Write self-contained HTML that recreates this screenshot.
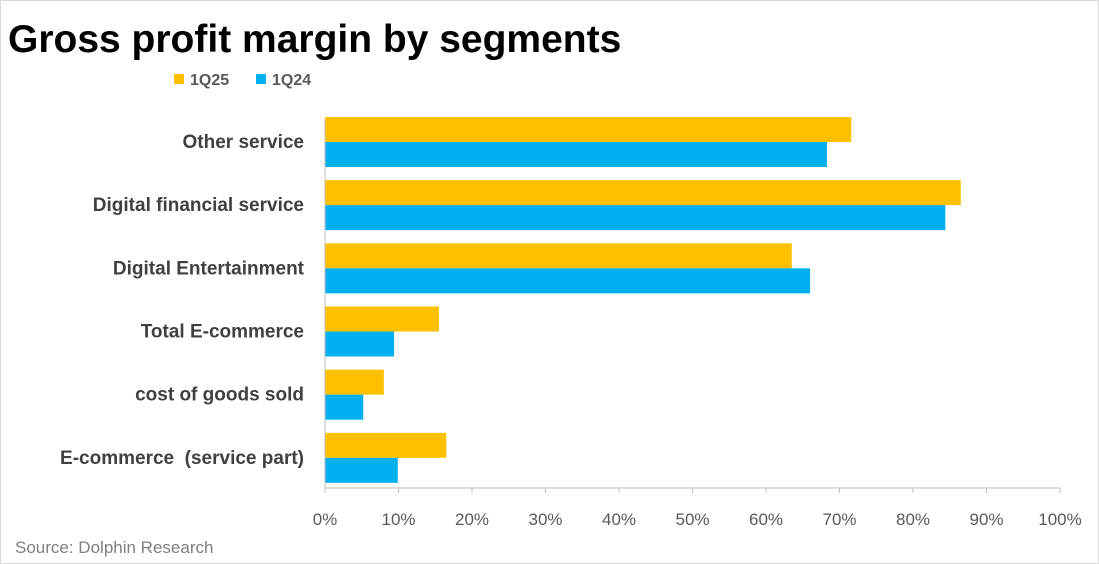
<!DOCTYPE html>
<html><head><meta charset="utf-8"><style>
body{margin:0;background:#fff;}
#wrap{position:relative;width:1097px;height:562px;border:1px solid #d9d9d9;overflow:hidden;font-family:"Liberation Sans",sans-serif;}
</style></head><body>
<div id="wrap">
<svg id="chart" width="1097" height="562">
<text x="7" y="51" font-size="39" font-weight="bold" fill="#000">Gross profit margin by segments</text>
<g>
<rect x="173" y="73" width="10" height="10" fill="#FFC000"/>
<text x="189" y="84" font-size="16" font-weight="bold" fill="#595959">1Q25</text>
<rect x="255" y="73" width="10" height="10" fill="#00B0F0"/>
<text x="271" y="84" font-size="16" font-weight="bold" fill="#595959">1Q24</text>
</g>
<g id="plot"></g>
<text x="14" y="552" font-size="17" fill="#7f7f7f">Source: Dolphin Research</text>
</svg>
</div>
<script>
const categories=["Other service","Digital financial service","Digital Entertainment","Total E-commerce","cost of goods sold","E-commerce\u00a0\u00a0(service part)"];
const series1Q25=[71.6,86.5,63.5,15.5,8.0,16.5];
const series1Q24=[68.3,84.4,66.0,9.4,5.2,9.9];
const tickLabels=["0%","10%","20%","30%","40%","50%","60%","70%","80%","90%","100%"];
const tickValues=[0,10,20,30,40,50,60,70,80,90,100];
const NS="http://www.w3.org/2000/svg";
const plotG=document.getElementById('plot');
const plotX0=324,plotX1=1059,plotTop=108,plotBottom=487;
const xs=v=>plotX0+(plotX1-plotX0)*v/100;
const band=(plotBottom-plotTop)/categories.length;
function el(t,a){const e=document.createElementNS(NS,t);for(const k in a)e.setAttribute(k,a[k]);plotG.appendChild(e);return e;}
categories.forEach((c,i)=>{
  const y=plotTop+i*band+8;
  const b1=el('rect',{x:xs(0),y:y,width:xs(series1Q25[i])-xs(0),height:25,fill:'#FFC000'});
  
  
  const b2=el('rect',{x:xs(0),y:y+25,width:xs(series1Q24[i])-xs(0),height:25,fill:'#00B0F0'});
  
  
  const t=el('text',{x:303,y:y+31,'font-size':19,'font-weight':'bold',fill:'#404040','text-anchor':'end'});
  t.textContent=c;
  
  
});
const ax=el('line',{x1:plotX0,y1:plotTop+10,x2:plotX0,y2:plotBottom,stroke:'#bfbfbf','stroke-width':1});


const bx=el('line',{x1:plotX0,y1:plotBottom,x2:plotX1,y2:plotBottom,stroke:'#bfbfbf','stroke-width':1});


tickValues.forEach((v,i)=>{
  const tk=el('line',{x1:xs(v),y1:plotBottom,x2:xs(v),y2:plotBottom+5,stroke:'#bfbfbf'});
  
  
  const t=el('text',{x:xs(v),y:plotBottom+37,'font-size':17,fill:'#595959','text-anchor':'middle'});
  t.textContent=tickLabels[i];
  
  
});
</script>
</body></html>
